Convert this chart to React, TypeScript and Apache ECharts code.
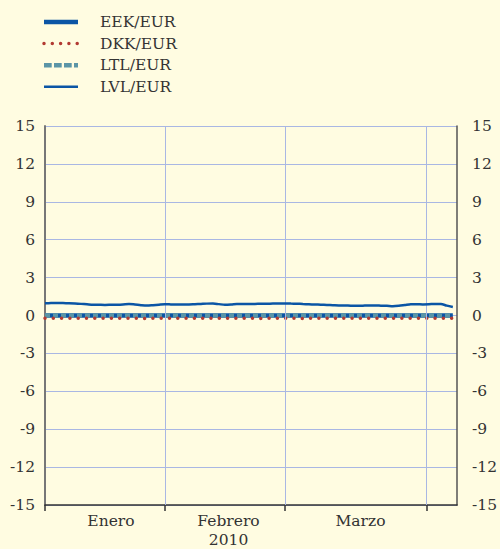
import { useEffect, useRef } from "react";
import * as echarts from "echarts";

const seriesNames = ["EEK/EUR", "DKK/EUR", "LTL/EUR", "LVL/EUR"];

const eek = [
  0, 0, 0, 0, 0, 0, 0, 0, 0, 0, 0, 0, 0, 0, 0, 0, 0, 0, 0, 0, 0, 0, 0, 0, 0,
  0, 0, 0, 0, 0, 0, 0, 0, 0, 0, 0, 0, 0, 0, 0, 0, 0, 0, 0, 0, 0, 0, 0, 0, 0,
  0, 0, 0, 0, 0, 0, 0, 0, 0, 0, 0, 0, 0, 0, 0, 0, 0, 0, 0,
];
const ltl = [
  0, 0, 0, 0, 0, 0, 0, 0, 0, 0, 0, 0, 0, 0, 0, 0, 0, 0, 0, 0, 0, 0, 0, 0, 0,
  0, 0, 0, 0, 0, 0, 0, 0, 0, 0, 0, 0, 0, 0, 0, 0, 0, 0, 0, 0, 0, 0, 0, 0, 0,
  0, 0, 0, 0, 0, 0, 0, 0, 0, 0, 0, 0, 0, 0, 0, 0, 0, 0, 0,
];
const dkk = [
  -0.22, -0.22, -0.23, -0.22, -0.22, -0.21, -0.22, -0.22, -0.23, -0.22, -0.22, -0.22, -0.21,
  -0.22, -0.22, -0.22, -0.23, -0.23, -0.22, -0.22, -0.22, -0.21, -0.22, -0.22, -0.22, -0.22,
  -0.23, -0.22, -0.22, -0.22, -0.22, -0.22, -0.21, -0.22, -0.22, -0.22, -0.23, -0.22, -0.22,
  -0.22, -0.22, -0.22, -0.22, -0.23, -0.22, -0.22, -0.22, -0.21, -0.22, -0.22, -0.22, -0.22,
  -0.23, -0.22, -0.22, -0.22, -0.22, -0.22, -0.21, -0.22, -0.22, -0.22, -0.22, -0.23, -0.22,
  -0.22, -0.22, -0.22, -0.22,
];
const lvl = [
  0.97, 0.98, 0.99, 0.98, 0.97, 0.95, 0.92, 0.89, 0.86, 0.85, 0.84, 0.85, 0.86, 0.88, 0.91,
  0.87, 0.82, 0.79, 0.82, 0.86, 0.89, 0.88, 0.87, 0.88, 0.88, 0.9, 0.92, 0.94, 0.95, 0.9,
  0.85, 0.87, 0.91, 0.92, 0.92, 0.92, 0.93, 0.93, 0.94, 0.94, 0.95, 0.94, 0.93, 0.91, 0.89,
  0.87, 0.86, 0.84, 0.82, 0.8, 0.79, 0.78, 0.77, 0.78, 0.79, 0.79, 0.78, 0.77, 0.74, 0.77,
  0.83, 0.89, 0.9, 0.88, 0.89, 0.92, 0.91, 0.78, 0.67,
];

const monthTicks = [0, 20, 40, 63.6];
const monthLabelPos = [11, 30.6, 52.6];
const monthLabels = ["Enero", "Febrero", "Marzo"];
const yearLabel = "2010";
const xMax = 68.7;

const yMin = -15;
const yMax = 15;
const yInterval = 3;

const FONT = "DejaVu Serif, serif";
const FS = 15.5;
const TEXT = "#333333";
const GRID = "#a9b7e3";
const BG = "#fffce1";

const C_EEK = "#0b55a5";
const C_DKK = "#b23a32";
const C_LTL = "#5b95a6";
const C_LVL = "#0b55a5";

// legend line styles, in the order of seriesNames
const legendStyles = [
  { stroke: C_EEK, lineWidth: 4.5 },
  { stroke: C_DKK, lineWidth: 3.5, lineDash: [0, 8.3], lineCap: "round" },
  { stroke: C_LTL, lineWidth: 4.5, lineDash: [7.7, 2.3] },
  { stroke: C_LVL, lineWidth: 2.5 },
];

const toPairs = (arr: number[]) => arr.map((v, i) => [i, v]);

export default function App() {
  const ref = useRef<HTMLDivElement>(null);

  useEffect(() => {
    if (!ref.current) return;
    document.body.style.margin = "0";
    const chart = echarts.init(ref.current, undefined, { renderer: "svg" });

    const yAxisBase = {
      type: "value" as const,
      min: yMin,
      max: yMax,
      interval: yInterval,
      axisTick: { show: false },
    };

    const legendGraphics = seriesNames.map((name, r) => {
      const y = 22 + r * 21.6;
      return {
        type: "group",
        children: [
          {
            type: "line",
            shape: { x1: 44, y1: y, x2: 78, y2: y },
            style: legendStyles[r],
          },
          {
            type: "text",
            x: 100,
            y: y,
            style: {
              text: name,
              fill: TEXT,
              font: `${FS}px ${FONT}`,
              verticalAlign: "middle",
            },
          },
        ],
      };
    });

    chart.setOption({
      animation: false,
      backgroundColor: BG,
      graphic: legendGraphics,
      grid: { left: 45, right: 38, top: 126, bottom: 44, containLabel: false },
      xAxis: {
        type: "value",
        min: 0,
        max: xMax,
        axisLine: { show: true, onZero: false, lineStyle: { color: "#333", width: 1.5 } },
        axisTick: {
          show: true,
          customValues: monthTicks,
          length: 6,
          lineStyle: { color: "#333", width: 1.5 },
        },
        axisLabel: {
          customValues: monthLabelPos,
          margin: 7,
          fontFamily: FONT,
          fontSize: FS,
          color: TEXT,
          lineHeight: 18.5,
          formatter: (v: number) => {
            const k = monthLabelPos.indexOf(v);
            if (k < 0) return "";
            return k === 1 ? monthLabels[k] + "\n" + yearLabel : monthLabels[k];
          },
        },
        splitLine: { show: false },
      },
      yAxis: [
        {
          ...yAxisBase,
          position: "left",
          axisLine: { show: true, onZero: false, lineStyle: { color: "#777", width: 2 } },
          axisLabel: { margin: 10, fontFamily: FONT, fontSize: FS, color: TEXT },
          splitLine: { show: true, lineStyle: { color: GRID, width: 1 } },
        },
        {
          ...yAxisBase,
          position: "right",
          axisLine: { show: true, onZero: false, lineStyle: { color: "#555", width: 1.5 } },
          axisLabel: { margin: 15, fontFamily: FONT, fontSize: FS, color: TEXT },
          splitLine: { show: false },
        },
      ],
      series: [
        {
          name: "grid-months",
          type: "line",
          data: [],
          z: 1,
          silent: true,
          markLine: {
            silent: true,
            symbol: ["none", "none"],
            label: { show: false },
            lineStyle: { color: GRID, type: "solid", width: 1 },
            data: monthTicks.slice(1).map((x) => ({ xAxis: x })),
          },
        },
        {
          name: seriesNames[0],
          type: "line",
          data: toPairs(eek),
          symbol: "none",
          z: 2,
          lineStyle: { color: C_EEK, width: 4.5 },
        },
        {
          name: seriesNames[2],
          type: "line",
          data: toPairs(ltl),
          symbol: "none",
          z: 3,
          lineStyle: { color: C_LTL, width: 4.5, type: [5, 3] },
        },
        {
          name: seriesNames[1],
          type: "line",
          data: toPairs(dkk),
          symbol: "none",
          z: 4,
          lineStyle: { color: C_DKK, width: 3.5, type: [0, 8.3], cap: "round" },
        },
        {
          name: seriesNames[3],
          type: "line",
          data: toPairs(lvl),
          symbol: "none",
          smooth: 0.3,
          z: 5,
          lineStyle: { color: C_LVL, width: 2.5 },
        },
      ],
    });

    return () => chart.dispose();
  }, []);

  return (
    <div
      ref={ref}
      style={{ position: "absolute", left: 0, top: 0, width: 500, height: 549 }}
    />
  );
}
